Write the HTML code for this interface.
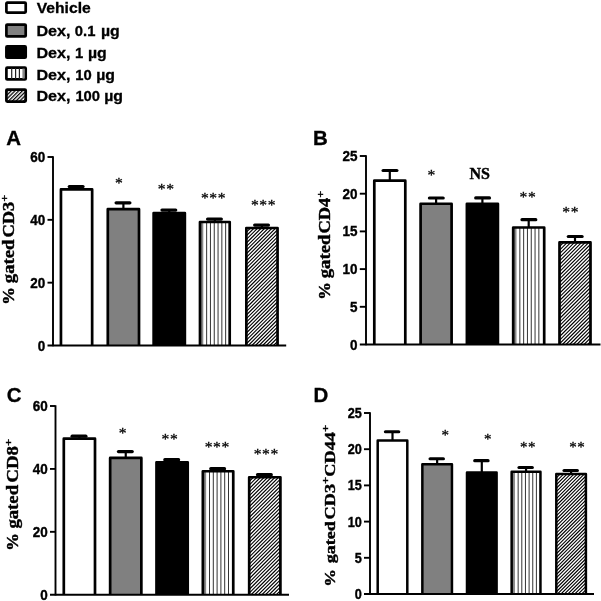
<!DOCTYPE html>
<html><head><meta charset="utf-8"><title>Figure</title>
<style>
html,body{margin:0;padding:0;background:#fff;}
svg{display:block;}
text{fill:#000;}
.tk{font-family:"Liberation Sans",sans-serif;font-weight:bold;stroke:#000;stroke-width:0.4px;}
.lg{font-family:"Liberation Sans",sans-serif;font-weight:bold;font-size:14.8px;stroke:#000;stroke-width:0.3px;}
.pl{font-family:"Liberation Sans",sans-serif;font-weight:bold;font-size:19.5px;stroke:#000;stroke-width:0.3px;}
.yl{font-family:"Liberation Serif",serif;font-weight:bold;stroke:#000;stroke-width:0.42px;}
.ns{font-family:"Liberation Serif",serif;font-weight:bold;font-size:16px;stroke:#000;stroke-width:0.4px;}
.st{font-family:"Liberation Serif",serif;stroke:#000;stroke-width:0.28px;}
</style></head><body>
<svg width="601" height="601" viewBox="0 0 601 601">
<defs>
<pattern id="dg" width="2.12" height="2.12" patternUnits="userSpaceOnUse" patternTransform="rotate(45)">
<rect width="2.12" height="2.12" fill="#fff"/><rect width="0.82" height="2.12" fill="#000"/>
</pattern>
<pattern id="dgl" width="2.65" height="2.65" patternUnits="userSpaceOnUse" patternTransform="rotate(45)">
<rect width="2.65" height="2.65" fill="#fff"/><rect width="1.25" height="2.65" fill="#000"/>
</pattern>
<pattern id="vh" width="3.8" height="4" patternUnits="userSpaceOnUse"><rect width="3.8" height="4" fill="#fff"/><rect width="1" height="4" fill="#333"/></pattern>
</defs>
<rect width="601" height="601" fill="#fff"/>
<g stroke="#000" stroke-width="2.7" stroke-linejoin="round">
<rect x="6.4" y="2.6" width="19.3" height="10" rx="0.8" fill="#fff"/>
<rect x="6.4" y="24.55" width="19.3" height="11.9" rx="0.8" fill="#808080"/>
<rect x="6.4" y="46.35" width="19.3" height="11.4" rx="0.8" fill="#000"/>
<rect x="6.4" y="67.6" width="19.3" height="11.85" rx="0.8" fill="#fff"/>
<rect x="6.4" y="89.55" width="19.3" height="12" rx="0.8" fill="url(#dgl)"/>
</g>
<g stroke="#222" stroke-width="1.2"><line x1="11.7" y1="68" x2="11.7" y2="79"/><line x1="15.6" y1="68" x2="15.6" y2="79"/><line x1="19.4" y1="68" x2="19.4" y2="79"/></g>
<rect x="22.4" y="68.6" width="2.2" height="10" fill="#888"/>
<text transform="translate(36.7,13) scale(1.06,1)" class="lg">Vehicle</text>
<text transform="translate(36.4,36) scale(1.09,1)" class="lg">Dex,</text><text x="74.8" y="36" class="lg">0.1</text><text transform="translate(101,36) scale(1.07,1)" class="lg">µg</text>
<text transform="translate(36.4,58) scale(1.09,1)" class="lg">Dex,</text><text x="75" y="58" class="lg">1</text><text transform="translate(88,58) scale(1.07,1)" class="lg">µg</text>
<text transform="translate(36.4,79.6) scale(1.09,1)" class="lg">Dex,</text><text x="75.2" y="79.6" class="lg">10</text><text transform="translate(96.2,79.6) scale(1.07,1)" class="lg">µg</text>
<text transform="translate(36.4,101) scale(1.09,1)" class="lg">Dex,</text><text x="75.4" y="101" class="lg">100</text><text transform="translate(104.2,101) scale(1.07,1)" class="lg">µg</text>

<line x1="76.55" y1="189.40" x2="76.55" y2="186.60" stroke="#000" stroke-width="2.2"/>
<line x1="69.25" y1="186.60" x2="83.05" y2="186.60" stroke="#000" stroke-width="3.2" stroke-linecap="round"/>
<rect x="60.95" y="189.40" width="31.20" height="156.10" fill="#fff"/>
<path d="M60.95 345.50V189.40H92.15V345.50" fill="none" stroke="#000" stroke-width="2.7" stroke-linejoin="round"/>
<line x1="123.40" y1="209.20" x2="123.40" y2="202.80" stroke="#000" stroke-width="2.2"/>
<line x1="116.10" y1="202.80" x2="129.90" y2="202.80" stroke="#000" stroke-width="3.2" stroke-linecap="round"/>
<rect x="107.80" y="209.20" width="31.20" height="136.30" fill="#808080"/>
<path d="M107.80 345.50V209.20H139.00V345.50" fill="none" stroke="#000" stroke-width="2.7" stroke-linejoin="round"/>
<line x1="169.25" y1="213.00" x2="169.25" y2="210.10" stroke="#000" stroke-width="2.2"/>
<line x1="161.95" y1="210.10" x2="175.75" y2="210.10" stroke="#000" stroke-width="3.2" stroke-linecap="round"/>
<rect x="153.65" y="213.00" width="31.20" height="132.50" fill="#000"/>
<path d="M153.65 345.50V213.00H184.85V345.50" fill="none" stroke="#000" stroke-width="2.7" stroke-linejoin="round"/>
<line x1="214.85" y1="222.00" x2="214.85" y2="219.10" stroke="#000" stroke-width="2.2"/>
<line x1="207.55" y1="219.10" x2="221.35" y2="219.10" stroke="#000" stroke-width="3.2" stroke-linecap="round"/>
<rect x="200.00" y="222.00" width="29.70" height="123.50" fill="#fff"/>
<rect x="200.00" y="222.00" width="3.3" height="123.50" fill="#888"/>
<path d="M206.65 222.00V345.50M210.45 222.00V345.50M214.25 222.00V345.50M218.05 222.00V345.50M221.85 222.00V345.50M225.65 222.00V345.50" stroke="#333" stroke-width="1" fill="none"/>
<path d="M200.00 345.50V222.00H229.70V345.50" fill="none" stroke="#000" stroke-width="2.7" stroke-linejoin="round"/>
<line x1="261.95" y1="228.00" x2="261.95" y2="225.10" stroke="#000" stroke-width="2.2"/>
<line x1="254.65" y1="225.10" x2="268.45" y2="225.10" stroke="#000" stroke-width="3.2" stroke-linecap="round"/>
<clipPath id="cA"><rect x="246.35" y="228.00" width="31.20" height="117.50"/></clipPath>
<rect x="246.35" y="228.00" width="31.20" height="117.50" fill="#fff"/>
<path d="M246.95 228.00L129.45 345.50M250.55 228.00L133.05 345.50M254.15 228.00L136.65 345.50M257.75 228.00L140.25 345.50M261.35 228.00L143.85 345.50M264.95 228.00L147.45 345.50M268.55 228.00L151.05 345.50M272.15 228.00L154.65 345.50M275.75 228.00L158.25 345.50M279.35 228.00L161.85 345.50M282.95 228.00L165.45 345.50M286.55 228.00L169.05 345.50M290.15 228.00L172.65 345.50M293.75 228.00L176.25 345.50M297.35 228.00L179.85 345.50M300.95 228.00L183.45 345.50M304.55 228.00L187.05 345.50M308.15 228.00L190.65 345.50M311.75 228.00L194.25 345.50M315.35 228.00L197.85 345.50M318.95 228.00L201.45 345.50M322.55 228.00L205.05 345.50M326.15 228.00L208.65 345.50M329.75 228.00L212.25 345.50M333.35 228.00L215.85 345.50M336.95 228.00L219.45 345.50M340.55 228.00L223.05 345.50M344.15 228.00L226.65 345.50M347.75 228.00L230.25 345.50M351.35 228.00L233.85 345.50M354.95 228.00L237.45 345.50M358.55 228.00L241.05 345.50M362.15 228.00L244.65 345.50M365.75 228.00L248.25 345.50M369.35 228.00L251.85 345.50M372.95 228.00L255.45 345.50M376.55 228.00L259.05 345.50M380.15 228.00L262.65 345.50M383.75 228.00L266.25 345.50M387.35 228.00L269.85 345.50M390.95 228.00L273.45 345.50M394.55 228.00L277.05 345.50" stroke="#000" stroke-width="1.1" fill="none" clip-path="url(#cA)"/>
<path d="M246.35 345.50V228.00H277.55V345.50" fill="none" stroke="#000" stroke-width="2.7" stroke-linejoin="round"/>
<line x1="53" y1="156.3" x2="53" y2="346.2" stroke="#000" stroke-width="1.9"/>
<line x1="47.5" y1="345.5" x2="286.2" y2="345.5" stroke="#000" stroke-width="1.9"/>
<text transform="translate(45.30,350.50) scale(0.88,1)" text-anchor="end" class="tk" font-size="15.3">0</text>
<line x1="47.5" y1="282.67" x2="53" y2="282.67" stroke="#000" stroke-width="1.9"/>
<text transform="translate(45.30,287.67) scale(0.88,1)" text-anchor="end" class="tk" font-size="15.3">20</text>
<line x1="47.5" y1="219.83" x2="53" y2="219.83" stroke="#000" stroke-width="1.9"/>
<text transform="translate(45.30,224.83) scale(0.88,1)" text-anchor="end" class="tk" font-size="15.3">40</text>
<line x1="47.5" y1="157.00" x2="53" y2="157.00" stroke="#000" stroke-width="1.9"/>
<text transform="translate(45.30,162.00) scale(0.88,1)" text-anchor="end" class="tk" font-size="15.3">60</text>
<text x="119.2" y="188.15" text-anchor="middle" class="st" font-size="15.6" letter-spacing="0.65">*</text>
<text x="166.2" y="194.45" text-anchor="middle" class="st" font-size="15.6" letter-spacing="0.65">**</text>
<text x="213.6" y="202.85" text-anchor="middle" class="st" font-size="15.6" letter-spacing="0.65">***</text>
<text x="263.6" y="209.85" text-anchor="middle" class="st" font-size="15.6" letter-spacing="0.65">***</text>
<text transform="translate(14,304.8) rotate(-90) scale(1.1,1)" class="yl" font-size="16">%</text>
<text transform="translate(14,283.2) rotate(-90) scale(1.17,1)" class="yl" font-size="16">gated</text>
<text transform="translate(14,237.5) rotate(-90) scale(1.15,1)" class="yl" font-size="16">CD3<tspan dy='-6' font-size='10.5'>+</tspan></text>
<text transform="translate(6.3,144.7) scale(1.05,1)" class="pl">A</text>
<line x1="389.80" y1="180.70" x2="389.80" y2="170.50" stroke="#000" stroke-width="2.2"/>
<line x1="383.10" y1="170.50" x2="396.90" y2="170.50" stroke="#000" stroke-width="3.2" stroke-linecap="round"/>
<rect x="374.30" y="180.70" width="31.00" height="163.80" fill="#fff"/>
<path d="M374.30 344.50V180.70H405.30V344.50" fill="none" stroke="#000" stroke-width="2.7" stroke-linejoin="round"/>
<line x1="436.10" y1="203.75" x2="436.10" y2="198.00" stroke="#000" stroke-width="2.2"/>
<line x1="429.40" y1="198.00" x2="443.20" y2="198.00" stroke="#000" stroke-width="3.2" stroke-linecap="round"/>
<rect x="420.60" y="203.75" width="31.00" height="140.75" fill="#808080"/>
<path d="M420.60 344.50V203.75H451.60V344.50" fill="none" stroke="#000" stroke-width="2.7" stroke-linejoin="round"/>
<line x1="482.40" y1="203.80" x2="482.40" y2="197.90" stroke="#000" stroke-width="2.2"/>
<line x1="475.70" y1="197.90" x2="489.50" y2="197.90" stroke="#000" stroke-width="3.2" stroke-linecap="round"/>
<rect x="466.90" y="203.80" width="31.00" height="140.70" fill="#000"/>
<path d="M466.90 344.50V203.80H497.90V344.50" fill="none" stroke="#000" stroke-width="2.7" stroke-linejoin="round"/>
<line x1="528.70" y1="227.50" x2="528.70" y2="219.70" stroke="#000" stroke-width="2.2"/>
<line x1="522.00" y1="219.70" x2="535.80" y2="219.70" stroke="#000" stroke-width="3.2" stroke-linecap="round"/>
<rect x="513.20" y="227.50" width="31.00" height="117.00" fill="#fff"/>
<rect x="513.20" y="227.50" width="3.3" height="117.00" fill="#888"/>
<path d="M519.85 227.50V344.50M523.65 227.50V344.50M527.45 227.50V344.50M531.25 227.50V344.50M535.05 227.50V344.50M538.85 227.50V344.50" stroke="#333" stroke-width="1" fill="none"/>
<path d="M513.20 344.50V227.50H544.20V344.50" fill="none" stroke="#000" stroke-width="2.7" stroke-linejoin="round"/>
<line x1="575.00" y1="242.40" x2="575.00" y2="236.50" stroke="#000" stroke-width="2.2"/>
<line x1="568.30" y1="236.50" x2="582.10" y2="236.50" stroke="#000" stroke-width="3.2" stroke-linecap="round"/>
<clipPath id="cB"><rect x="559.50" y="242.40" width="31.00" height="102.10"/></clipPath>
<rect x="559.50" y="242.40" width="31.00" height="102.10" fill="#fff"/>
<path d="M560.10 242.40L458.00 344.50M563.70 242.40L461.60 344.50M567.30 242.40L465.20 344.50M570.90 242.40L468.80 344.50M574.50 242.40L472.40 344.50M578.10 242.40L476.00 344.50M581.70 242.40L479.60 344.50M585.30 242.40L483.20 344.50M588.90 242.40L486.80 344.50M592.50 242.40L490.40 344.50M596.10 242.40L494.00 344.50M599.70 242.40L497.60 344.50M603.30 242.40L501.20 344.50M606.90 242.40L504.80 344.50M610.50 242.40L508.40 344.50M614.10 242.40L512.00 344.50M617.70 242.40L515.60 344.50M621.30 242.40L519.20 344.50M624.90 242.40L522.80 344.50M628.50 242.40L526.40 344.50M632.10 242.40L530.00 344.50M635.70 242.40L533.60 344.50M639.30 242.40L537.20 344.50M642.90 242.40L540.80 344.50M646.50 242.40L544.40 344.50M650.10 242.40L548.00 344.50M653.70 242.40L551.60 344.50M657.30 242.40L555.20 344.50M660.90 242.40L558.80 344.50M664.50 242.40L562.40 344.50M668.10 242.40L566.00 344.50M671.70 242.40L569.60 344.50M675.30 242.40L573.20 344.50M678.90 242.40L576.80 344.50M682.50 242.40L580.40 344.50M686.10 242.40L584.00 344.50M689.70 242.40L587.60 344.50" stroke="#000" stroke-width="1.1" fill="none" clip-path="url(#cB)"/>
<path d="M559.50 344.50V242.40H590.50V344.50" fill="none" stroke="#000" stroke-width="2.7" stroke-linejoin="round"/>
<line x1="366.0" y1="155.3" x2="366.0" y2="345.2" stroke="#000" stroke-width="1.9"/>
<line x1="359.8" y1="344.5" x2="600.5" y2="344.5" stroke="#000" stroke-width="1.9"/>
<text transform="translate(357.60,349.50) scale(0.88,1)" text-anchor="end" class="tk" font-size="15.3">0</text>
<line x1="359.8" y1="306.80" x2="366.0" y2="306.80" stroke="#000" stroke-width="1.9"/>
<text transform="translate(357.60,311.80) scale(0.88,1)" text-anchor="end" class="tk" font-size="15.3">5</text>
<line x1="359.8" y1="269.10" x2="366.0" y2="269.10" stroke="#000" stroke-width="1.9"/>
<text transform="translate(357.60,274.10) scale(0.88,1)" text-anchor="end" class="tk" font-size="15.3">10</text>
<line x1="359.8" y1="231.40" x2="366.0" y2="231.40" stroke="#000" stroke-width="1.9"/>
<text transform="translate(357.60,236.40) scale(0.88,1)" text-anchor="end" class="tk" font-size="15.3">15</text>
<line x1="359.8" y1="193.70" x2="366.0" y2="193.70" stroke="#000" stroke-width="1.9"/>
<text transform="translate(357.60,198.70) scale(0.88,1)" text-anchor="end" class="tk" font-size="15.3">20</text>
<line x1="359.8" y1="156.00" x2="366.0" y2="156.00" stroke="#000" stroke-width="1.9"/>
<text transform="translate(357.60,161.00) scale(0.88,1)" text-anchor="end" class="tk" font-size="15.3">25</text>
<text x="431.75" y="179.65" text-anchor="middle" class="st" font-size="15.6" letter-spacing="0.65">*</text>
<text x="479.8" y="178.7" text-anchor="middle" class="ns">NS</text>
<text x="528" y="201.65" text-anchor="middle" class="st" font-size="15.6" letter-spacing="0.65">**</text>
<text x="570.7" y="216.65" text-anchor="middle" class="st" font-size="15.6" letter-spacing="0.65">**</text>
<text transform="translate(330.1,299.8) rotate(-90) scale(1.1,1)" class="yl" font-size="16">%</text>
<text transform="translate(330.1,278.3) rotate(-90) scale(1.17,1)" class="yl" font-size="16">gated</text>
<text transform="translate(330.1,233.5) rotate(-90) scale(1.15,1)" class="yl" font-size="16">CD4<tspan dy='-6' font-size='10.5'>+</tspan></text>
<text transform="translate(313,144.7) scale(1.05,1)" class="pl">B</text>
<line x1="79.40" y1="438.65" x2="79.40" y2="436.15" stroke="#000" stroke-width="2.2"/>
<line x1="72.10" y1="436.15" x2="85.90" y2="436.15" stroke="#000" stroke-width="3.2" stroke-linecap="round"/>
<rect x="63.80" y="438.65" width="31.20" height="156.10" fill="#fff"/>
<path d="M63.80 594.75V438.65H95.00V594.75" fill="none" stroke="#000" stroke-width="2.7" stroke-linejoin="round"/>
<line x1="125.75" y1="457.95" x2="125.75" y2="451.55" stroke="#000" stroke-width="2.2"/>
<line x1="118.45" y1="451.55" x2="132.25" y2="451.55" stroke="#000" stroke-width="3.2" stroke-linecap="round"/>
<rect x="110.15" y="457.95" width="31.20" height="136.80" fill="#808080"/>
<path d="M110.15 594.75V457.95H141.35V594.75" fill="none" stroke="#000" stroke-width="2.7" stroke-linejoin="round"/>
<line x1="172.10" y1="462.25" x2="172.10" y2="459.65" stroke="#000" stroke-width="2.2"/>
<line x1="164.80" y1="459.65" x2="178.60" y2="459.65" stroke="#000" stroke-width="3.2" stroke-linecap="round"/>
<rect x="156.50" y="462.25" width="31.20" height="132.50" fill="#000"/>
<path d="M156.50 594.75V462.25H187.70V594.75" fill="none" stroke="#000" stroke-width="2.7" stroke-linejoin="round"/>
<line x1="218.05" y1="471.25" x2="218.05" y2="468.65" stroke="#000" stroke-width="2.2"/>
<line x1="210.75" y1="468.65" x2="224.55" y2="468.65" stroke="#000" stroke-width="3.2" stroke-linecap="round"/>
<rect x="202.85" y="471.25" width="30.40" height="123.50" fill="#fff"/>
<rect x="202.85" y="471.25" width="3.3" height="123.50" fill="#888"/>
<path d="M209.50 471.25V594.75M213.30 471.25V594.75M217.10 471.25V594.75M220.90 471.25V594.75M224.70 471.25V594.75M228.50 471.25V594.75" stroke="#333" stroke-width="1" fill="none"/>
<path d="M202.85 594.75V471.25H233.25V594.75" fill="none" stroke="#000" stroke-width="2.7" stroke-linejoin="round"/>
<line x1="264.80" y1="477.25" x2="264.80" y2="474.65" stroke="#000" stroke-width="2.2"/>
<line x1="257.50" y1="474.65" x2="271.30" y2="474.65" stroke="#000" stroke-width="3.2" stroke-linecap="round"/>
<clipPath id="cC"><rect x="249.20" y="477.25" width="31.20" height="117.50"/></clipPath>
<rect x="249.20" y="477.25" width="31.20" height="117.50" fill="#fff"/>
<path d="M249.80 477.25L132.30 594.75M253.40 477.25L135.90 594.75M257.00 477.25L139.50 594.75M260.60 477.25L143.10 594.75M264.20 477.25L146.70 594.75M267.80 477.25L150.30 594.75M271.40 477.25L153.90 594.75M275.00 477.25L157.50 594.75M278.60 477.25L161.10 594.75M282.20 477.25L164.70 594.75M285.80 477.25L168.30 594.75M289.40 477.25L171.90 594.75M293.00 477.25L175.50 594.75M296.60 477.25L179.10 594.75M300.20 477.25L182.70 594.75M303.80 477.25L186.30 594.75M307.40 477.25L189.90 594.75M311.00 477.25L193.50 594.75M314.60 477.25L197.10 594.75M318.20 477.25L200.70 594.75M321.80 477.25L204.30 594.75M325.40 477.25L207.90 594.75M329.00 477.25L211.50 594.75M332.60 477.25L215.10 594.75M336.20 477.25L218.70 594.75M339.80 477.25L222.30 594.75M343.40 477.25L225.90 594.75M347.00 477.25L229.50 594.75M350.60 477.25L233.10 594.75M354.20 477.25L236.70 594.75M357.80 477.25L240.30 594.75M361.40 477.25L243.90 594.75M365.00 477.25L247.50 594.75M368.60 477.25L251.10 594.75M372.20 477.25L254.70 594.75M375.80 477.25L258.30 594.75M379.40 477.25L261.90 594.75M383.00 477.25L265.50 594.75M386.60 477.25L269.10 594.75M390.20 477.25L272.70 594.75M393.80 477.25L276.30 594.75M397.40 477.25L279.90 594.75" stroke="#000" stroke-width="1.1" fill="none" clip-path="url(#cC)"/>
<path d="M249.20 594.75V477.25H280.40V594.75" fill="none" stroke="#000" stroke-width="2.7" stroke-linejoin="round"/>
<line x1="55.5" y1="405.3" x2="55.5" y2="595.45" stroke="#000" stroke-width="1.9"/>
<line x1="50.0" y1="594.75" x2="289" y2="594.75" stroke="#000" stroke-width="1.9"/>
<text transform="translate(47.80,599.75) scale(0.88,1)" text-anchor="end" class="tk" font-size="15.3">0</text>
<line x1="50.0" y1="531.83" x2="55.5" y2="531.83" stroke="#000" stroke-width="1.9"/>
<text transform="translate(47.80,536.83) scale(0.88,1)" text-anchor="end" class="tk" font-size="15.3">20</text>
<line x1="50.0" y1="468.92" x2="55.5" y2="468.92" stroke="#000" stroke-width="1.9"/>
<text transform="translate(47.80,473.92) scale(0.88,1)" text-anchor="end" class="tk" font-size="15.3">40</text>
<line x1="50.0" y1="406.00" x2="55.5" y2="406.00" stroke="#000" stroke-width="1.9"/>
<text transform="translate(47.80,411.00) scale(0.88,1)" text-anchor="end" class="tk" font-size="15.3">60</text>
<text x="122.9" y="438.20000000000005" text-anchor="middle" class="st" font-size="15.6" letter-spacing="0.65">*</text>
<text x="169.89999999999998" y="444.00000000000006" text-anchor="middle" class="st" font-size="15.6" letter-spacing="0.65">**</text>
<text x="217.29999999999998" y="452.40000000000003" text-anchor="middle" class="st" font-size="15.6" letter-spacing="0.65">***</text>
<text x="266.3" y="459.40000000000003" text-anchor="middle" class="st" font-size="15.6" letter-spacing="0.65">***</text>
<text transform="translate(18.3,550.8) rotate(-90) scale(1.1,1)" class="yl" font-size="16">%</text>
<text transform="translate(18.3,528.6) rotate(-90) scale(1.17,1)" class="yl" font-size="16">gated</text>
<text transform="translate(18.3,482.7) rotate(-90) scale(1.18,1)" class="yl" font-size="16">CD8<tspan dy='-6' font-size='10.5'>+</tspan></text>
<text transform="translate(6.8,401.6) scale(1.05,1)" class="pl">C</text>
<line x1="392.50" y1="440.50" x2="392.50" y2="431.75" stroke="#000" stroke-width="2.2"/>
<line x1="385.45" y1="431.75" x2="398.75" y2="431.75" stroke="#000" stroke-width="3.2" stroke-linecap="round"/>
<rect x="377.70" y="440.50" width="29.60" height="153.50" fill="#fff"/>
<path d="M377.70 594.00V440.50H407.30V594.00" fill="none" stroke="#000" stroke-width="2.5" stroke-linejoin="round"/>
<line x1="437.15" y1="464.20" x2="437.15" y2="458.75" stroke="#000" stroke-width="2.2"/>
<line x1="430.10" y1="458.75" x2="443.40" y2="458.75" stroke="#000" stroke-width="3.2" stroke-linecap="round"/>
<rect x="422.35" y="464.20" width="29.60" height="129.80" fill="#808080"/>
<path d="M422.35 594.00V464.20H451.95V594.00" fill="none" stroke="#000" stroke-width="2.5" stroke-linejoin="round"/>
<line x1="481.80" y1="472.50" x2="481.80" y2="460.70" stroke="#000" stroke-width="2.2"/>
<line x1="474.75" y1="460.70" x2="488.05" y2="460.70" stroke="#000" stroke-width="3.2" stroke-linecap="round"/>
<rect x="467.00" y="472.50" width="29.60" height="121.50" fill="#000"/>
<path d="M467.00 594.00V472.50H496.60V594.00" fill="none" stroke="#000" stroke-width="2.5" stroke-linejoin="round"/>
<line x1="526.05" y1="471.70" x2="526.05" y2="467.50" stroke="#000" stroke-width="2.2"/>
<line x1="519.00" y1="467.50" x2="532.30" y2="467.50" stroke="#000" stroke-width="3.2" stroke-linecap="round"/>
<rect x="511.65" y="471.70" width="28.80" height="122.30" fill="#fff"/>
<rect x="511.65" y="471.70" width="3.3" height="122.30" fill="#888"/>
<path d="M518.15 471.70V594.00M521.80 471.70V594.00M525.45 471.70V594.00M529.10 471.70V594.00M532.75 471.70V594.00M536.40 471.70V594.00" stroke="#333" stroke-width="1" fill="none"/>
<path d="M511.65 594.00V471.70H540.45V594.00" fill="none" stroke="#000" stroke-width="2.5" stroke-linejoin="round"/>
<line x1="571.10" y1="473.90" x2="571.10" y2="470.50" stroke="#000" stroke-width="2.2"/>
<line x1="564.05" y1="470.50" x2="577.35" y2="470.50" stroke="#000" stroke-width="3.2" stroke-linecap="round"/>
<clipPath id="cD"><rect x="556.30" y="473.90" width="29.60" height="120.10"/></clipPath>
<rect x="556.30" y="473.90" width="29.60" height="120.10" fill="#fff"/>
<path d="M556.90 473.90L436.80 594.00M560.35 473.90L440.25 594.00M563.80 473.90L443.70 594.00M567.25 473.90L447.15 594.00M570.70 473.90L450.60 594.00M574.15 473.90L454.05 594.00M577.60 473.90L457.50 594.00M581.05 473.90L460.95 594.00M584.50 473.90L464.40 594.00M587.95 473.90L467.85 594.00M591.40 473.90L471.30 594.00M594.85 473.90L474.75 594.00M598.30 473.90L478.20 594.00M601.75 473.90L481.65 594.00M605.20 473.90L485.10 594.00M608.65 473.90L488.55 594.00M612.10 473.90L492.00 594.00M615.55 473.90L495.45 594.00M619.00 473.90L498.90 594.00M622.45 473.90L502.35 594.00M625.90 473.90L505.80 594.00M629.35 473.90L509.25 594.00M632.80 473.90L512.70 594.00M636.25 473.90L516.15 594.00M639.70 473.90L519.60 594.00M643.15 473.90L523.05 594.00M646.60 473.90L526.50 594.00M650.05 473.90L529.95 594.00M653.50 473.90L533.40 594.00M656.95 473.90L536.85 594.00M660.40 473.90L540.30 594.00M663.85 473.90L543.75 594.00M667.30 473.90L547.20 594.00M670.75 473.90L550.65 594.00M674.20 473.90L554.10 594.00M677.65 473.90L557.55 594.00M681.10 473.90L561.00 594.00M684.55 473.90L564.45 594.00M688.00 473.90L567.90 594.00M691.45 473.90L571.35 594.00M694.90 473.90L574.80 594.00M698.35 473.90L578.25 594.00M701.80 473.90L581.70 594.00M705.25 473.90L585.15 594.00" stroke="#000" stroke-width="1.1" fill="none" clip-path="url(#cD)"/>
<path d="M556.30 594.00V473.90H585.90V594.00" fill="none" stroke="#000" stroke-width="2.5" stroke-linejoin="round"/>
<line x1="370.0" y1="412.3" x2="370.0" y2="594.7" stroke="#000" stroke-width="1.9"/>
<line x1="364.0" y1="594" x2="594" y2="594" stroke="#000" stroke-width="1.9"/>
<text transform="translate(361.80,599.00) scale(0.88,1)" text-anchor="end" class="tk" font-size="14.4">0</text>
<line x1="364.0" y1="557.80" x2="370.0" y2="557.80" stroke="#000" stroke-width="1.9"/>
<text transform="translate(361.80,562.80) scale(0.88,1)" text-anchor="end" class="tk" font-size="14.4">5</text>
<line x1="364.0" y1="521.60" x2="370.0" y2="521.60" stroke="#000" stroke-width="1.9"/>
<text transform="translate(361.80,526.60) scale(0.88,1)" text-anchor="end" class="tk" font-size="14.4">10</text>
<line x1="364.0" y1="485.40" x2="370.0" y2="485.40" stroke="#000" stroke-width="1.9"/>
<text transform="translate(361.80,490.40) scale(0.88,1)" text-anchor="end" class="tk" font-size="14.4">15</text>
<line x1="364.0" y1="449.20" x2="370.0" y2="449.20" stroke="#000" stroke-width="1.9"/>
<text transform="translate(361.80,454.20) scale(0.88,1)" text-anchor="end" class="tk" font-size="14.4">20</text>
<line x1="364.0" y1="413.00" x2="370.0" y2="413.00" stroke="#000" stroke-width="1.9"/>
<text transform="translate(361.80,418.00) scale(0.88,1)" text-anchor="end" class="tk" font-size="14.4">25</text>
<text x="445.5" y="439.5" text-anchor="middle" class="st" font-size="15.0" letter-spacing="0.5">*</text>
<text x="487.9" y="443.6" text-anchor="middle" class="st" font-size="15.0" letter-spacing="0.5">*</text>
<text x="528" y="451.7" text-anchor="middle" class="st" font-size="15.0" letter-spacing="0.5">**</text>
<text x="577.2" y="451.7" text-anchor="middle" class="st" font-size="15.0" letter-spacing="0.5">**</text>
<text transform="translate(334.8,586.8) rotate(-90) scale(1.15,1)" class="yl" font-size="15.4">%</text>
<text transform="translate(334.8,563.2) rotate(-90) scale(1.17,1)" class="yl" font-size="15.4">gated</text>
<text transform="translate(334.8,519.5) rotate(-90) scale(1.19,1)" class="yl" font-size="15.4">CD3<tspan dy='-6' font-size='10.5'>+</tspan><tspan dy='6'>CD44</tspan><tspan dy='-6' font-size='10.5'>+</tspan></text>
<text transform="translate(313.5,401.6) scale(1.05,1)" class="pl">D</text>
</svg>
</body></html>
